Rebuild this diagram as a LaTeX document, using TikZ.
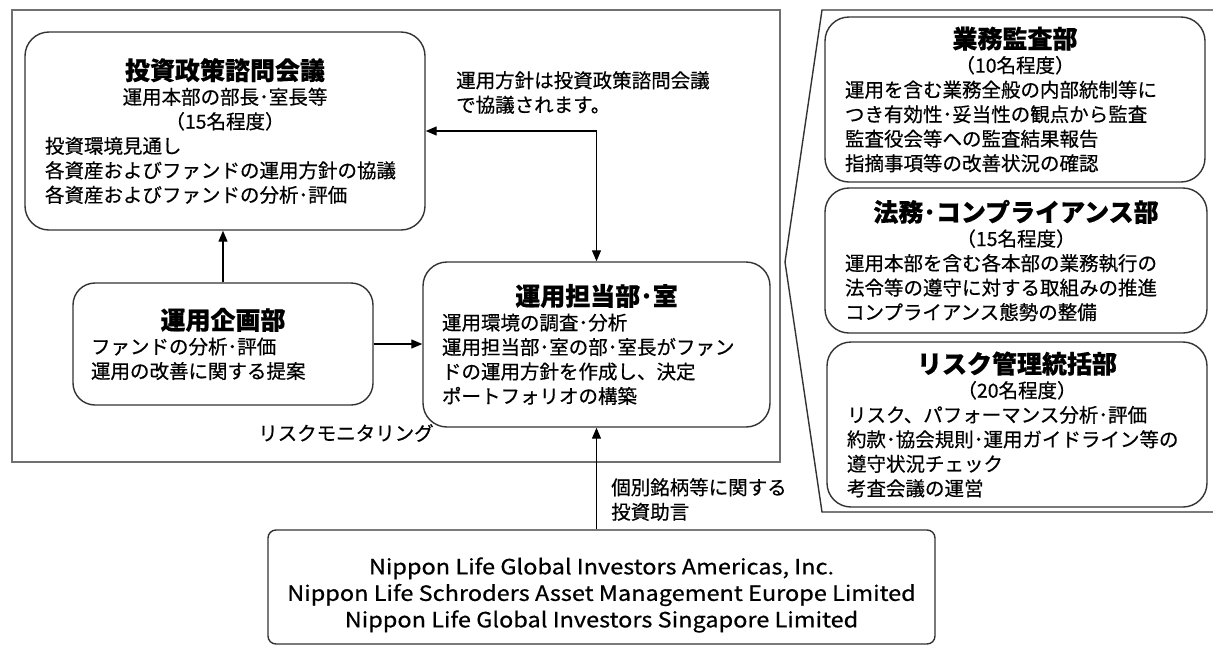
\documentclass[tikz,border=0pt]{standalone}
\usepackage{fontspec}
\setmainfont{Noto Sans CJK JP}
\newfontfamily\jfont{Noto Sans CJK JP}[FakeBold=0.5]
\newfontfamily\lfont{Noto Sans CJK JP}[FakeStretch=1.12, FakeBold=0.6]
\usetikzlibrary{arrows.meta}
\newcommand\jbody{\jfont\fontsize{19.5}{24.5}\selectfont}
\newcommand\jtitle{\fontsize{25}{24.5}\selectfont\bfseries}
\definecolor{edge}{HTML}{333333}
\definecolor{framegray}{HTML}{707070}
\tikzset{
  rbox/.style={draw=edge, line width=1.4pt, rounded corners=24pt, inner xsep=20pt, inner ysep=0pt, align=left, font=\jbody},
  framebox/.style={draw=framegray, line width=2pt, inner sep=0pt},
  lbl/.style={inner sep=0pt, align=left, font=\jbody},
  conn/.style={draw=black, line width=1.3pt, -{Triangle[length=11pt,width=9pt]}},
  conn2/.style={draw=black, line width=1.3pt, {Triangle[length=11pt,width=9pt]}-{Triangle[length=11pt,width=9pt]}},
  bracketline/.style={draw=edge, line width=1.4pt}
}
\begin{document}
\begin{tikzpicture}[x=1pt, y=-1pt]
\useasboundingbox (0,0) rectangle (1213,646);
\node[framebox, minimum width=768pt, minimum height=452pt] (frame) at (396,236) {};
\draw[bracketline] (1213,10) -- (822,10) -- (785,262) -- (822,512) -- (1213,512);

\node[rbox, minimum width=400pt, minimum height=198pt, text width=360pt] (policy) at (225,131)
 {{\centering{\jtitle 投資政策諮問会議}\\運用本部の部長･室長等\\（15名程度）\par}投資環境見通し\\各資産およびファンドの運用方針の協議\\各資産およびファンドの分析･評価};

\node[rbox, rounded corners=22pt, inner xsep=18pt, minimum width=300pt, minimum height=122pt, text width=264pt] (plan) at (223,344)
 {{\centering{\jtitle 運用企画部}\par}ファンドの分析･評価\\運用の改善に関する提案};

\node[rbox, rounded corners=24pt, inner xsep=19pt, minimum width=347pt, minimum height=165pt, text width=309pt] (unit) at (596.5,344.5)
 {{\centering{\jtitle 運用担当部･室}\par}運用環境の調査･分析\\運用担当部･室の部･室長がファン\\ドの運用方針を作成し、決定\\ポートフォリオの構築};

\node[rbox, rounded corners=24pt, minimum width=380pt, minimum height=165pt, text width=340pt] (audit) at (1015,99.5)
 {{\centering{\jtitle 業務監査部}\\（10名程度）\par}運用を含む業務全般の内部統制等に\\つき有効性･妥当性の観点から監査\\監査役会等への監査結果報告\\指摘事項等の改善状況の確認};

\node[rbox, rounded corners=24pt, minimum width=382pt, minimum height=145pt, text width=342pt] (legal) at (1016,260.5)
 {{\centering{\jtitle 法務･コンプライアンス部}\\（15名程度）\par}運用本部を含む各本部の業務執行の\\法令等の遵守に対する取組みの推進\\コンプライアンス態勢の整備};

\node[rbox, rounded corners=24pt, minimum width=380pt, minimum height=165pt, text width=340pt] (risk) at (1017,424.5)
 {{\centering{\jtitle リスク管理統括部}\\（20名程度）\par}リスク、パフォーマンス分析･評価\\約款･協会規則･運用ガイドライン等の\\遵守状況チェック\\考査会議の運営};

\node[rbox, rounded corners=8pt, inner sep=0pt, minimum width=667pt, minimum height=114pt] (nippon) at (601.5,587) {};
\node[lbl, align=center, font=\lfont\fontsize{21}{26.5}\selectfont] (nippontext) at (601.5,595)
 {Nippon Life Global Investors Americas, Inc.\\Nippon Life Schroders Asset Management Europe Limited\\Nippon Life Global Investors Singapore Limited};

\node[lbl, anchor=north west] (note1) at (456,71) {運用方針は投資政策諮問会議\\で協議されます。};
\node[lbl, anchor=north west] (note2) at (611,478) {個別銘柄等に関する\\投資助言};
\node[lbl, anchor=west] (note3) at (258,433) {リスクモニタリング};

\draw[conn2] (unit.north) |- (policy.east);
\draw[conn] (plan.north) -- (plan.north |- policy.south);
\draw[conn] (plan.east) -- (plan.east -| unit.west);
\draw[conn] (unit.south |- nippon.north) -- (unit.south);
\end{tikzpicture}
\end{document}
